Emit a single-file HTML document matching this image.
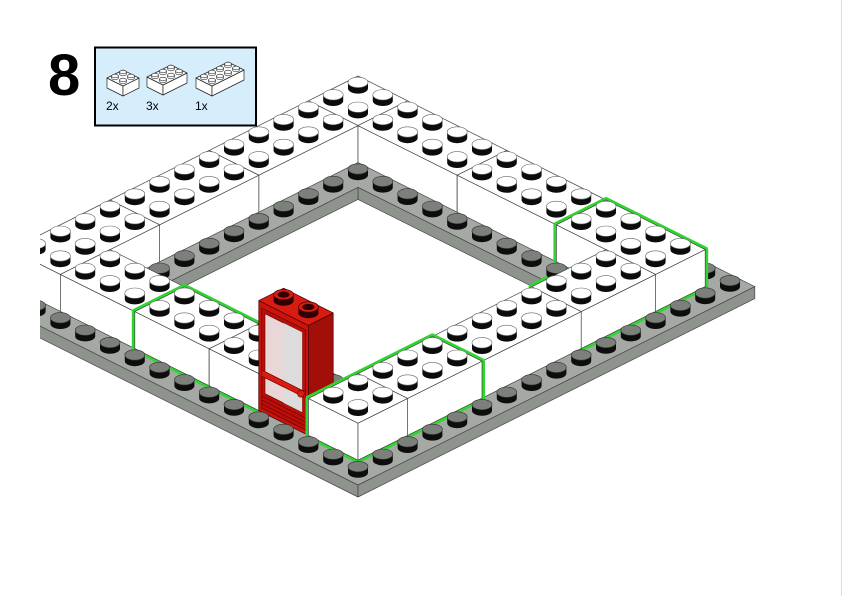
<!DOCTYPE html>
<html><head><meta charset="utf-8">
<style>html,body{margin:0;padding:0;background:#fff;}svg{display:block;}</style>
</head><body>
<svg id="s" width="842" height="596" viewBox="0 0 842 596" xmlns="http://www.w3.org/2000/svg"></svg>
<script>
const S=[];const H=37;
function P(u,v,h){return [358+24.8*(u-v),485-12.4*(u+v)-h];}
function pt(p){return p[0].toFixed(1)+','+p[1].toFixed(1);}
function poly(ps,fill,stroke,sw){S.push(`<polygon points="${ps.map(pt).join(' ')}" fill="${fill}" stroke="${stroke}" stroke-width="${sw}" stroke-linejoin="round"/>`);}
function box(u0,u1,v0,v1,h0,h1,ct,cl,cr,st){
 poly([P(u0,v0,h0),P(u0,v1,h0),P(u0,v1,h1),P(u0,v0,h1)],cl,st,0.7);
 poly([P(u0,v0,h0),P(u1,v0,h0),P(u1,v0,h1),P(u0,v0,h1)],cr,st,0.7);
 poly([P(u0,v0,h1),P(u1,v0,h1),P(u1,v1,h1),P(u0,v1,h1)],ct,st,0.7);
}
function stud(cu,cv,h,top,side,edge){const c=P(cu,cv,h);const rx=10,ry=5.2,sh=6;const x=c[0].toFixed(1),y=c[1];
 const xl=(c[0]-rx).toFixed(1),xr=(c[0]+rx).toFixed(1);
 S.push(`<path d="M${xl},${y.toFixed(1)} A${rx},${ry} 0 0 0 ${xr},${y.toFixed(1)} L${xr},${(y-sh).toFixed(1)} L${xl},${(y-sh).toFixed(1)}Z" fill="${side}"/>`);
 S.push(`<ellipse cx="${x}" cy="${(y-sh).toFixed(1)}" rx="${rx}" ry="${ry}" fill="${top}" stroke="${edge}" stroke-width="0.6"/>`);}
function cellsSorted(list){return list.sort((a,b)=>(b[0]+b[1])-(a[0]+a[1]));}
function brick(u0,u1,v0,v1){
 box(u0,u1,v0,v1,0,H,'#fff','#fff','#fff','#444');
 const c=[];for(let u=u0;u<u1;u++)for(let v=v0;v<v1;v++)c.push([u,v]);
 cellsSorted(c).forEach(a=>stud(a[0]+.5,a[1]+.5,H,'#fff','#0b0b0b','#666'));
}
function hex(b){const[u0,u1,v0,v1]=b;return [P(u0,v0,0),P(u1,v0,0),P(u1,v0,H),P(u1,v1,H),P(u0,v1,H),P(u0,v1,0)];}
function halo(list){list.forEach(b=>poly(hex(b),'none','#2fd62f',6));}
function pstud(a){stud(a[0]+.5,a[1]+.5,0,'#7c807b','#0d0d0d','#333');}

const PS='#8f938e',PT='#a5a9a4';
poly([P(0,0,0),P(0,16,0),P(0,16,-12),P(0,0,-12)],PS,'#444',0.7);
poly([P(0,0,0),P(16,0,0),P(16,0,-12),P(0,0,-12)],PS,'#444',0.7);
{const o=[P(0,0,0),P(16,0,0),P(16,16,0),P(0,16,0)],i=[P(4,4,0),P(12,4,0),P(12,12,0),P(4,12,0)];
 S.push(`<path fill-rule="evenodd" d="M${o.map(pt).join(' L')}Z M${i.map(pt).join(' L')}Z" fill="${PT}" stroke="#444" stroke-width="0.7"/>`);}
poly([P(12,4,0),P(12,12,0),P(12,12,-12),P(12,4,-12)],PS,'#444',0.7);
poly([P(4,12,0),P(12,12,0),P(12,12,-12),P(4,12,-12)],PS,'#444',0.7);
{const c=[];for(let v=1;v<16;v++)c.push([15,v]);for(let u=0;u<15;u++)c.push([u,15]);cellsSorted(c).forEach(pstud);}
brick(13,15,13,15);
brick(9,13,13,15);brick(5,9,13,15);brick(1,5,13,15);
brick(13,15,9,13);brick(13,15,5,9);
halo([[13,15,1,5],[10,13,1,3]]);
brick(13,15,1,5);
{const c=[];for(let v=3;v<13;v++)c.push([12,v]);for(let u=3;u<12;u++)c.push([u,12]);
 for(let v=3;v<12;v++)c.push([3,v]);for(let u=4;u<12;u++)c.push([u,3]);cellsSorted(c).forEach(pstud);}
brick(10,13,1,3);brick(6,10,1,3);
brick(1,3,10,13);
halo([[1,3,5,7],[1,3,7,10]]);
brick(1,3,7,10);brick(1,3,5,7);
box(1,2,3,5,0,110,'#d81c12','#c9140c','#a20e08','#4a0000');
function F(v,h){return P(1,v,h);}
poly([F(3.12,4),F(4.88,4),F(4.88,104),F(3.12,104)],'#b80f08','#5a0000',0.6);
poly([F(3.25,42),F(4.75,42),F(4.75,100),F(3.25,100)],'#e9d6d6','#6a0000',0.6);
poly([F(3.25,42),F(4.0,42),F(4.0,100),F(3.25,100)],'#dcdcdc','none',0);
poly([F(3.25,20),F(4.75,20),F(4.75,36),F(3.25,36)],'#e9d6d6','#6a0000',0.6);
poly([F(3.25,20),F(4.0,20),F(4.0,36),F(3.25,36)],'#dcdcdc','none',0);
poly([F(3.12,36),F(4.88,36),F(4.88,42),F(3.12,42)],'#d81c12','#6a0000',0.6);
for(let h=4;h<20;h+=4){S.push(`<line x1="${F(4.88,h)[0]}" y1="${F(4.88,h)[1]}" x2="${F(3.12,h)[0]}" y2="${F(3.12,h)[1]}" stroke="#7a0000" stroke-width="0.7"/>`);}
{const c=F(3.3,38);S.push(`<circle cx="${c[0]}" cy="${c[1]}" r="3.5" fill="#d81c12" stroke="#5a0000" stroke-width="0.6"/>`);}
[[1.5,4.5],[1.5,3.5]].forEach(a=>{stud(a[0],a[1],110,'#d81c12','#300000','#300000');const c=P(a[0],a[1],116);
 S.push(`<ellipse cx="${c[0]}" cy="${c[1]}" rx="6" ry="3.1" fill="#300000"/>`);});
halo([[1,3,1,3],[3,6,1,3]]);
brick(3,6,1,3);
brick(1,3,1,3);
{const c=[];for(let u=0;u<16;u++)c.push([u,0]);for(let v=1;v<16;v++)c.push([0,v]);cellsSorted(c).forEach(pstud);}
S.push('<rect x="0" y="0" width="40" height="596" fill="#fff"/>');
S.push('<line x1="841.5" y1="0" x2="841.5" y2="596" stroke="#ddd" stroke-width="1"/>');
S.push('<text x="48" y="95" font-family="Liberation Sans, sans-serif" font-weight="bold" font-size="58" fill="#000">8</text>');
S.push('<rect x="95" y="47.5" width="161" height="78" fill="#d6edfb" stroke="#000" stroke-width="2"/>');
function mini(ox,oy,L){
 const Q=(u,v,h)=>[ox+8*(u-v),oy-4*(u+v)-h];const h1=10;
 const pl=(ps)=>S.push(`<polygon points="${ps.map(pt).join(' ')}" fill="#fff" stroke="#222" stroke-width="0.7" stroke-linejoin="round"/>`);
 pl([Q(0,0,0),Q(0,2,0),Q(0,2,h1),Q(0,0,h1)]);
 pl([Q(0,0,0),Q(L,0,0),Q(L,0,h1),Q(0,0,h1)]);
 pl([Q(0,0,h1),Q(L,0,h1),Q(L,2,h1),Q(0,2,h1)]);
 const c=[];for(let u=0;u<L;u++)for(let v=0;v<2;v++)c.push([u,v]);
 cellsSorted(c).forEach(a=>{const p=Q(a[0]+.5,a[1]+.5,h1);
  S.push(`<path d="M${p[0]-3.4},${p[1]} A3.4,1.8 0 0 0 ${p[0]+3.4},${p[1]} L${p[0]+3.4},${p[1]-2} L${p[0]-3.4},${p[1]-2}Z" fill="#fff" stroke="#222" stroke-width="0.6"/>`);
  S.push(`<ellipse cx="${p[0]}" cy="${p[1]-2}" rx="3.4" ry="1.8" fill="#fff" stroke="#222" stroke-width="0.6"/>`);});
}
mini(123,96,2);mini(163,95,3);mini(212,96,4);
S.push('<g font-family="Liberation Sans, sans-serif" font-size="12" fill="#000"><text x="106" y="110">2x</text><text x="146" y="110">3x</text><text x="195" y="110">1x</text></g>');
document.getElementById('s').innerHTML=S.join('');
</script>
</body></html>
